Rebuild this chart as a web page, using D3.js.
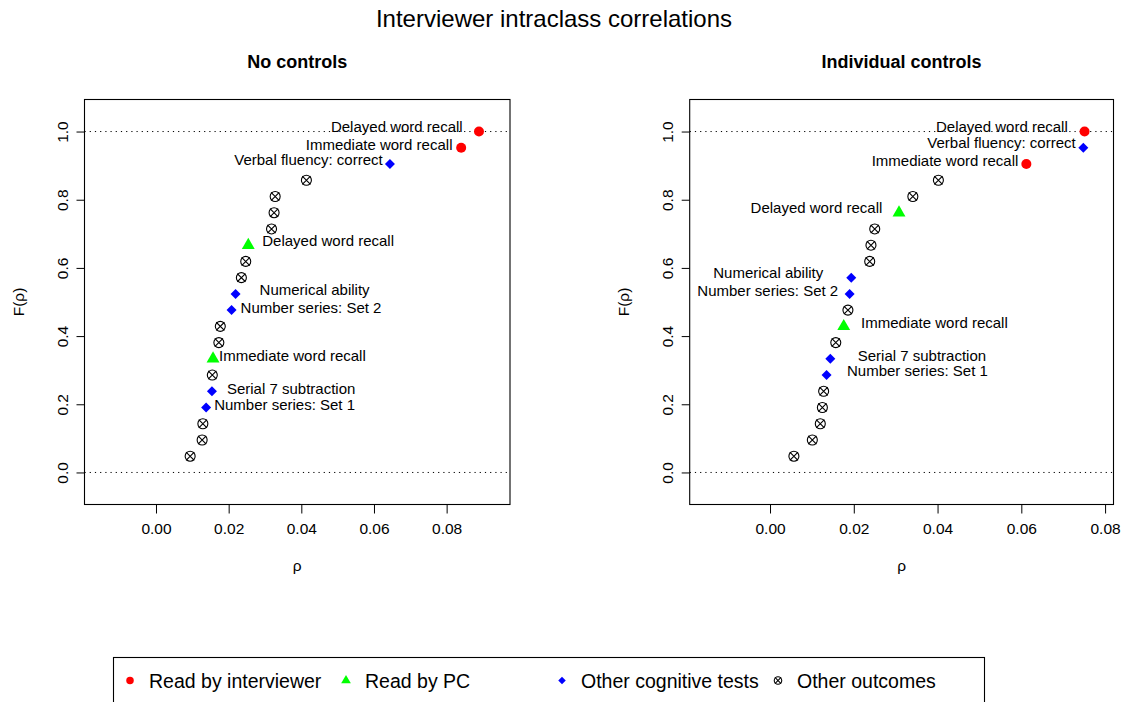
<!DOCTYPE html>
<html>
<head>
<meta charset="utf-8">
<script src="https://cdn.jsdelivr.net/npm/d3@7"></script>
<style>
  body { margin: 0; background: #fff; }
  svg { display: block; }
  text { font-family: "Liberation Sans", Arial, Helvetica, sans-serif; fill: #000; }
</style>
</head>
<body>
<svg id="chart" width="1126" height="702"></svg>
<script>
// ---- data -------------------------------------------------------------
const mainTitle = "Interviewer intraclass correlations";
const panelTitles = ["No controls", "Individual controls"];
const groupNames = ["Read by interviewer", "Read by PC", "Other cognitive tests", "Other outcomes"];
const xTicks = [0.00, 0.02, 0.04, 0.06, 0.08];
const yTicks = [0.0, 0.2, 0.4, 0.6, 0.8, 1.0];

// Interviewer ICCs, sorted ascending (no controls)
const rhoNoControls = [0.0094, 0.0127, 0.0129, 0.0138, 0.0154, 0.0155, 0.0157, 0.0173, 0.0177,
  0.0208, 0.0219, 0.0235, 0.0247, 0.0254, 0.0318, 0.0325, 0.0328, 0.0414, 0.0644, 0.0840, 0.0889];
const groupNoControls = [3, 3, 3, 2, 2, 3, 1, 3, 3, 2, 2, 3, 3, 1, 3, 3, 3, 3, 2, 0, 0];
const labelNoControls = ["", "", "", "Number series: Set 1", "Serial 7 subtraction", "", "Immediate word recall",
  "", "", "Number series: Set 2", "Numerical ability", "", "", "Delayed word recall", "", "", "", "",
  "Verbal fluency: correct", "Immediate word recall", "Delayed word recall"];

// Interviewer ICCs, sorted ascending (individual controls)
const rhoIndividual = [0.0057, 0.0101, 0.0120, 0.0125, 0.0128, 0.0135, 0.0144, 0.0157, 0.0176, 0.0186,
  0.0190, 0.0194, 0.0238, 0.0241, 0.0250, 0.0308, 0.0341, 0.0402, 0.0612, 0.0748, 0.0751];
const groupIndividual = [3, 3, 3, 3, 3, 2, 2, 3, 1, 3, 2, 2, 3, 3, 3, 1, 3, 3, 0, 2, 0];
const labelIndividual = ["", "", "", "", "", "Number series: Set 1", "Serial 7 subtraction", "", "Immediate word recall",
  "", "Number series: Set 2", "Numerical ability", "", "", "", "Delayed word recall", "", "",
  "Immediate word recall", "Verbal fluency: correct", "Delayed word recall"];

// ---- layout -----------------------------------------------------------
// label nudges in pixels [dx, dy, side]; side -1 = text left of point, +1 = right
const nudgeNoControls = {3: [8, -3, 1], 4: [15, -3, 1], 6: [6, -3.3, 1], 9: [9, -3, 1], 10: [24, -4.4, 1],
  13: [14, -4.7, 1], 18: [-7.3, -4.4, -1], 19: [-8.7, -3.2, -1], 20: [-16.3, -5, -1]};
const nudgeIndividual = {5: [20.4, -4.3, 1], 6: [27.4, -3.3, 1], 8: [17.3, -3.5, 1], 10: [-11.4, -3.4, -1],
  11: [-28, -4.8, -1], 15: [-16.7, -5.5, -1], 18: [-8, -3.7, -1], 19: [-7.6, -4.9, -1], 20: [-16.8, -5, -1]};

const panels = [
  { title: panelTitles[0], rho: rhoNoControls, group: groupNoControls, label: labelNoControls,
    nudge: nudgeNoControls, left: 84.5, right: 510, xDomain: [-0.01968, 0.09744] },
  { title: panelTitles[1], rho: rhoIndividual, group: groupIndividual, label: labelIndividual,
    nudge: nudgeIndividual, left: 689.7, right: 1113.5, xDomain: [-0.01918, 0.08201] }
];
const plotTop = 99.5, plotBottom = 504.5;
const yDomain = [-0.094, 1.094];
const colors = ["#FF0000", "#00FF00", "#0000FF", "#000000"];

const svg = d3.select("#chart");

// one symbol per group, drawn centred on (0,0)
function drawSymbol(sel, g, s) {
  if (g === 0) {
    sel.append("path").attr("d", d3.symbol(d3.symbolCircle, Math.PI * 25 * s * s)()).attr("fill", colors[0]);
  } else if (g === 1) {
    sel.append("path").attr("d", d3.symbol(d3.symbolTriangle, 72 * s * s)()).attr("fill", colors[1]);
  } else if (g === 2) {
    sel.append("path").attr("d", d3.symbol(d3.symbolSquare, 50 * s * s)())
      .attr("transform", "rotate(45)").attr("fill", colors[2]);
  } else {
    // circle with a cross through it
    const r = 5 * s, c = r * 0.82;
    sel.append("circle").attr("r", r).attr("fill", "none").attr("stroke", "#000").attr("stroke-width", 1.1);
    sel.append("path").attr("d", `M${-c},${-c}L${c},${c}M${-c},${c}L${c},${-c}`)
      .attr("stroke", "#000").attr("stroke-width", 1.1);
  }
}

svg.append("text").attr("x", 554).attr("y", 26.5).attr("text-anchor", "middle")
  .style("font-size", "24px").text(mainTitle);

panels.forEach(p => {
  const x = d3.scaleLinear().domain(p.xDomain).range([p.left, p.right]);
  const y = d3.scaleLinear().domain(yDomain).range([plotBottom, plotTop]);
  const n = p.rho.length;
  const g = svg.append("g");

  // panel title
  g.append("text").attr("x", (p.left + p.right) / 2).attr("y", 68.3).attr("text-anchor", "middle")
    .style("font-size", "18px").style("font-weight", "bold").text(p.title);

  // reference lines at F = 0 and F = 1
  g.selectAll("line.ref").data([0, 1]).join("line")
    .attr("x1", p.left).attr("x2", p.right).attr("y1", d => y(d)).attr("y2", d => y(d))
    .attr("stroke", "#000").attr("stroke-width", 1).attr("stroke-dasharray", "1.2,4");

  // axes
  const xAxis = d3.axisBottom(x).tickValues(xTicks).tickFormat(d3.format(".2f")).tickSize(9).tickPadding(9);
  const gx = g.append("g").attr("transform", `translate(0,${plotBottom})`).call(xAxis);
  gx.select(".domain").attr("d", `M${x(xTicks[0])},0H${x(xTicks[xTicks.length - 1])}`);
  gx.selectAll("text").style("font-size", "15.5px").style("font-family", null);

  const yAxis = d3.axisLeft(y).tickValues(yTicks).tickFormat(d3.format(".1f")).tickSize(8);
  const gy = g.append("g").attr("transform", `translate(${p.left},0)`).call(yAxis);
  gy.select(".domain").remove();
  gy.selectAll("text").style("font-size", "15.5px").style("font-family", null)
    .attr("text-anchor", "middle").attr("dy", null).attr("x", null)
    .attr("transform", "translate(-17,0) rotate(-90)");
  g.selectAll(".tick line").attr("stroke-width", 1);

  // plot frame
  g.append("rect").attr("x", p.left).attr("y", plotTop).attr("width", p.right - p.left)
    .attr("height", plotBottom - plotTop).attr("fill", "none").attr("stroke", "#000").attr("stroke-width", 1.1);

  // axis titles
  g.append("text").attr("x", (p.left + p.right) / 2).attr("y", 571).attr("text-anchor", "middle")
    .style("font-size", "15.5px").text("ρ");
  g.append("text").attr("transform", `translate(${p.left - 61},${(plotTop + plotBottom) / 2}) rotate(-90)`)
    .attr("text-anchor", "middle").style("font-size", "15.5px").text("F(ρ)");

  // points: empirical distribution F(rho) = rank / n
  p.rho.forEach((r, i) => {
    const cx = x(r), cy = y((i + 1) / n);
    const s = g.append("g").attr("transform", `translate(${cx},${cy})`);
    drawSymbol(s, p.group[i], 1);
    if (p.label[i]) {
      const [dx, dy, side] = p.nudge[i];
      g.append("text").attr("x", cx + dx).attr("y", cy + dy + 5.4)
        .attr("text-anchor", side < 0 ? "end" : "start").style("font-size", "15px").text(p.label[i]);
    }
  });
});

// legend
const legend = svg.append("g");
legend.append("rect").attr("x", 113.5).attr("y", 657.5).attr("width", 871).attr("height", 60)
  .attr("fill", "none").attr("stroke", "#000").attr("stroke-width", 1.1);
groupNames.forEach((name, i) => {
  const lx = 130 + i * 216, ly = 680.5;
  const s = legend.append("g").attr("transform", `translate(${lx},${ly})`);
  drawSymbol(s, i, 0.75);
  legend.append("text").attr("x", lx + 19).attr("y", ly + 7).style("font-size", "19.5px").text(name);
});
</script>
</body>
</html>
